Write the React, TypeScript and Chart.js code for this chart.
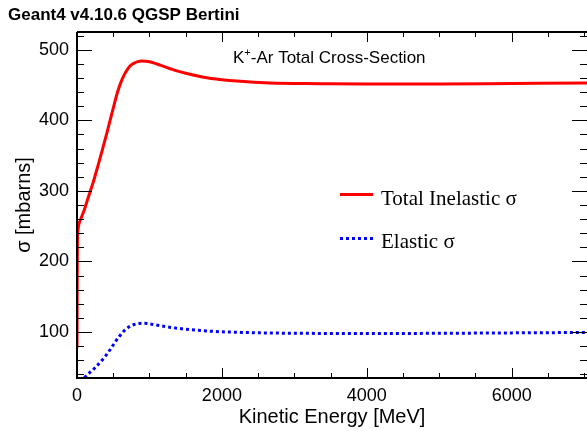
import React, { useEffect, useRef } from "react";
import { Chart, registerables } from "chart.js";

Chart.register(...registerables);

const inelasticEnergy = [0, 3, 6, 12, 25, 55, 100, 147, 220, 285, 350, 423, 470, 515, 560, 607, 655, 699, 745, 791, 840, 890, 950, 1000, 1066, 1150, 1287, 1342, 1500, 1747, 2000, 2207, 2666, 3356, 4000, 5000, 6000, 7040];
const inelasticSigma = [78, 180, 230, 243, 252, 261, 273, 288, 311, 334, 358, 386, 405, 423, 440, 454, 465, 472.5, 478, 481, 483, 484, 483.6, 482.8, 481, 478, 473, 471, 466.5, 461, 457.5, 455.5, 452.8, 451.8, 451.2, 451.3, 452, 452.7];

const elasticEnergy = [0, 101, 239, 377, 450, 515, 580, 652, 720, 791, 860, 930, 1000, 1112, 1342, 1572, 1894, 2262, 2676, 3500, 4000, 5000, 6000, 7040];
const elasticSigma = [22, 35.4, 48.5, 64, 74, 84, 93.5, 102, 107.5, 110.8, 112.2, 112.5, 111.8, 109.8, 106, 103.4, 101, 99.6, 98.7, 98.1, 98, 98.3, 98.9, 99.5];

const xTicks = [0, 2000, 4000, 6000];
const yTicks = [100, 200, 300, 400, 500];
const xMin = 0, xMax = 7040;
const yMin = 35, yMax = 525;

const titleText = "Geant4 v4.10.6 QGSP Bertini";
const legendLabels = ["Total Inelastic \u03c3", "Elastic \u03c3"];

const decorPlugin = {
  id: "decor",
  afterDraw(chart: any) {
    const { ctx, chartArea: a, scales } = chart;
    const xs = scales.x, ys = scales.y;
    ctx.save();
    ctx.strokeStyle = "#000";
    // frame
    ctx.lineWidth = 2;
    ctx.beginPath();
    ctx.moveTo(a.left, a.top);
    ctx.lineTo(a.right + 2, a.top);
    ctx.moveTo(a.left, a.top);
    ctx.lineTo(a.left, a.bottom);
    ctx.lineTo(a.right + 2, a.bottom);
    ctx.stroke();
    // ticks
    ctx.lineWidth = 1;
    ctx.beginPath();
    for (let v = 0; v <= xMax; v += 500) {
      const px = Math.round(xs.getPixelForValue(v)) + 0.5;
      const len = v % 2000 === 0 ? 10 : 5;
      ctx.moveTo(px, a.bottom);
      ctx.lineTo(px, a.bottom - len);
      ctx.moveTo(px, a.top);
      ctx.lineTo(px, a.top + len);
    }
    for (let v = 40; v <= yMax; v += 20) {
      const py = Math.round(ys.getPixelForValue(v)) + 0.5;
      const len = v % 100 === 0 ? 15 : 7;
      ctx.moveTo(a.left, py);
      ctx.lineTo(a.left + len, py);
      ctx.moveTo(a.right, py);
      ctx.lineTo(a.right - len, py);
    }
    ctx.stroke();

    // title
    ctx.fillStyle = "#000";
    ctx.textBaseline = "alphabetic";
    ctx.textAlign = "left";
    ctx.font = "bold 17px 'Liberation Sans', Arial, sans-serif";
    ctx.fillText(titleText, 8, 20);

    // subtitle K+-Ar Total Cross-Section
    ctx.font = "17px 'Liberation Sans', Arial, sans-serif";
    let x = 233;
    const by = 63;
    ctx.fillText("K", x, by);
    x += ctx.measureText("K").width;
    ctx.font = "11px 'Liberation Sans', Arial, sans-serif";
    ctx.fillText("+", x, by - 7);
    x += ctx.measureText("+").width;
    ctx.font = "17px 'Liberation Sans', Arial, sans-serif";
    ctx.fillText("-Ar Total Cross-Section", x, by);

    // legend
    const ds = chart.data.datasets;
    const rows = [194.5, 238.5];
    const bases = [205, 248];
    ds.forEach((d: any, i: number) => {
      ctx.strokeStyle = d.borderColor;
      ctx.lineWidth = d.borderWidth;
      ctx.setLineDash(d.borderDash || []);
      ctx.beginPath();
      ctx.moveTo(340, rows[i]);
      ctx.lineTo(373, rows[i]);
      ctx.stroke();
      ctx.setLineDash([]);
      ctx.fillStyle = "#000";
      ctx.font = "21px 'Liberation Serif', 'Times New Roman', serif";
      ctx.fillText(legendLabels[i], 381, bases[i]);
    });
    ctx.restore();
  },
};

export default function App() {
  const ref = useRef<HTMLCanvasElement>(null);
  useEffect(() => {
    if (!ref.current) return;
    const chart = new Chart(ref.current, {
      type: "line",
      data: {
        datasets: [
          {
            label: legendLabels[0],
            data: inelasticEnergy.map((e, i) => ({ x: e, y: inelasticSigma[i] })),
            borderColor: "#ff0000",
            borderWidth: 3,
            pointRadius: 0,
            cubicInterpolationMode: "monotone",
            fill: false,
          },
          {
            label: legendLabels[1],
            data: elasticEnergy.map((e, i) => ({ x: e, y: elasticSigma[i] })),
            borderColor: "#0000ff",
            borderWidth: 3,
            borderDash: [3, 3],
            pointRadius: 0,
            cubicInterpolationMode: "monotone",
            fill: false,
          },
        ],
      },
      options: {
        animation: false,
        responsive: false,
        layout: { padding: { top: 32, right: 0, left: 0, bottom: 0 } },
        plugins: { legend: { display: false }, title: { display: false }, tooltip: { enabled: false } },
        scales: {
          x: {
            type: "linear",
            min: xMin,
            max: xMax,
            afterFit: (s: any) => { s.height = 53; },
            afterBuildTicks: (s: any) => { s.ticks = xTicks.map((v) => ({ value: v })); },
            grid: { display: false, drawTicks: false },
            border: { display: false },
            ticks: { padding: 7, color: "#000", font: { family: "'Liberation Sans', Arial", size: 18 }, maxRotation: 0, callback: (v: any) => String(v) },
            title: { display: true, text: "Kinetic Energy [MeV]", color: "#000", font: { family: "'Liberation Sans', Arial", size: 20 }, padding: { top: 0, bottom: 2 } },
          },
          y: {
            type: "linear",
            min: yMin,
            max: yMax,
            afterFit: (s: any) => { s.width = 77; },
            afterBuildTicks: (s: any) => { s.ticks = yTicks.map((v) => ({ value: v })); },
            grid: { display: false, drawTicks: false },
            border: { display: false },
            ticks: { padding: 8, color: "#000", font: { family: "'Liberation Sans', Arial", size: 18 }, callback: (v: any) => String(v) },
            title: { display: true, text: "\u03c3 [mbarns]", color: "#000", font: { family: "'Liberation Sans', Arial", size: 20 }, padding: { top: 12, bottom: 0 } },
          },
        },
      },
      plugins: [decorPlugin],
    } as any);
    return () => chart.destroy();
  }, []);
  return (
    <div style={{ position: "absolute", left: 0, top: 0, width: 587, height: 431 }}>
      <canvas ref={ref} width={587} height={431} />
    </div>
  );
}
